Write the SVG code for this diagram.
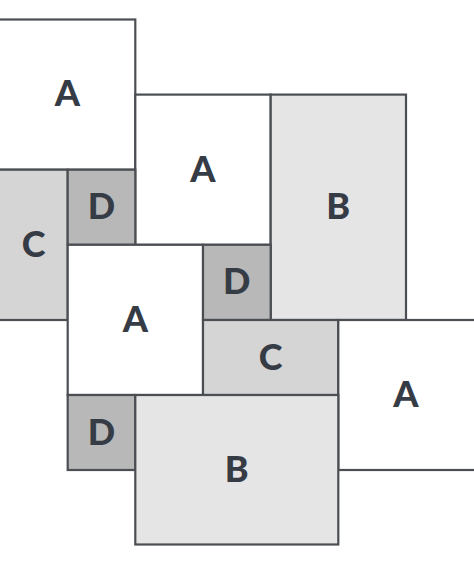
<svg xmlns="http://www.w3.org/2000/svg" width="474" height="565" viewBox="0 0 474 565">
<style>
rect{stroke:#4b4e53;stroke-width:2.2}
.a{fill:#ffffff}.b{fill:#e5e5e5}.c{fill:#d5d5d5}.d{fill:#b8b8b8}
text{font-family:Lato,"Noto Sans","DejaVu Sans",sans-serif;font-weight:900;font-size:36px;fill:#363c45;text-anchor:middle;dominant-baseline:central}
</style>
<rect width="474" height="565" fill="#ffffff" style="stroke:none"/>
<g id="a1"><rect class="a" x="-3" y="19.5" width="138.3" height="150.2"/><text x="67.5" y="92">A</text></g>
<g id="a2"><rect class="a" x="135.3" y="94.6" width="135.4" height="150.2"/><text x="203" y="167.5">A</text></g>
<g id="b1"><rect class="b" x="270.7" y="94.6" width="135.3" height="225.4"/><text x="338.3" y="205">B</text></g>
<g id="c1"><rect class="c" x="-3" y="169.7" width="70.7" height="150.3"/><text x="33.5" y="242.5">C</text></g>
<g id="d1"><rect class="d" x="67.7" y="169.7" width="67.6" height="75.1"/><text x="101.5" y="205">D</text></g>
<g id="a3"><rect class="a" x="67.7" y="244.8" width="135.3" height="150.2"/><text x="135.3" y="318">A</text></g>
<g id="d2"><rect class="d" x="203" y="244.8" width="67.7" height="75.2"/><text x="236.8" y="280">D</text></g>
<g id="c2"><rect class="c" x="203" y="320" width="135.3" height="75"/><text x="270.7" y="355.5">C</text></g>
<g id="a4"><rect class="a" x="338.3" y="320" width="140" height="150"/><text x="406" y="393">A</text></g>
<g id="d3"><rect class="d" x="67.7" y="395" width="67.6" height="75"/><text x="101.5" y="430.5">D</text></g>
<g id="b2"><rect class="b" x="135.3" y="395" width="203" height="149.5"/><text x="236.8" y="467.5">B</text></g>
<g id="connectors"></g>
</svg>
